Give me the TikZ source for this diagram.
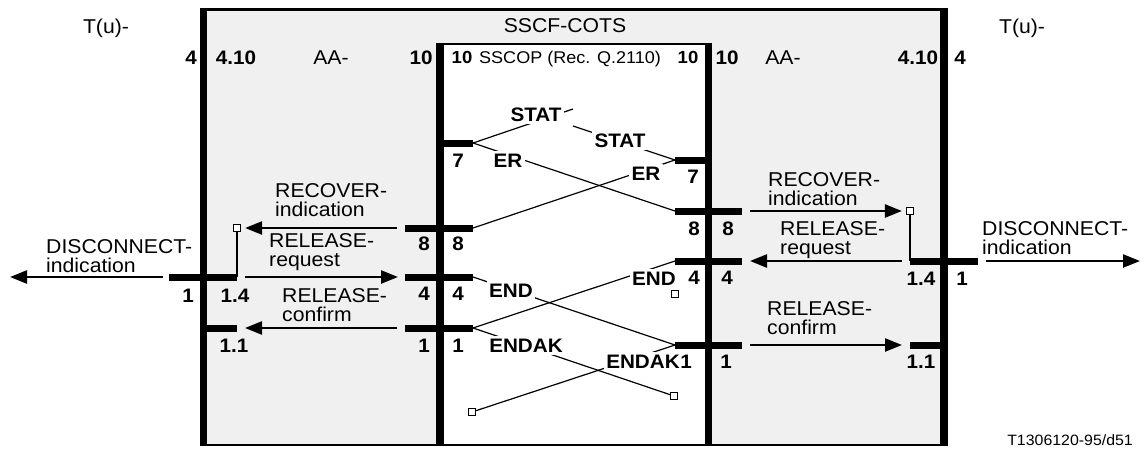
\documentclass[tikz,border=0pt]{standalone}
\usepackage{fontspec}
\setmainfont{Liberation Sans}[FakeStretch=1.06]
\usetikzlibrary{arrows.meta}
\definecolor{bg}{HTML}{F0F0F0}
\begin{document}
\begin{tikzpicture}[x=1pt,y=-1pt,
  bar/.style={line width=7.5pt},
  stub/.style={line width=7pt},
  sig/.style={line width=2.4pt,-{Triangle[length=17pt,width=13pt]}},
  pdu/.style={line width=1.2pt},
  lbl/.style={font=\fontsize{20}{19.5}\selectfont, align=left, inner sep=0pt, anchor=north west},
  txt/.style={font=\fontsize{20}{20}\selectfont, inner sep=0pt, anchor=base},
  small/.style={font=\fontsize{17}{17}\selectfont, inner sep=0pt, anchor=base},
  smallnum/.style={font=\bfseries\fontsize{17.5}{17}\selectfont, inner sep=0pt, anchor=base},
  num/.style={font=\bfseries\fontsize{19.5}{20}\selectfont, inner sep=0pt, anchor=base},
  pdulbl/.style={font=\bfseries\fontsize{19.5}{20}\selectfont, fill=white, inner sep=2.5pt, anchor=base},
  sq/.style={draw, fill=white, line width=1.2pt, minimum size=7pt, inner sep=0pt, rectangle}]
\useasboundingbox (0,0) rectangle (1145,455);
% frames
\fill[bg] (203,9) rectangle (944,445);
\fill[white] (440,43) rectangle (709,445);
\draw[line width=2.5pt] (200,9.5) -- (948,9.5);
\draw[line width=2pt] (200,444.5) -- (948,444.5);
\draw[line width=2.5pt] (436,44) -- (712,44);
\draw[bar] (203.5,8.5) -- (203.5,445.5);
\draw[bar] (944,8.5) -- (944,445.5);
\draw[bar] (440,43) -- (440,445.5);
\draw[bar] (708.5,43) -- (708.5,445.5);
% titles
\node[txt] (tul) at (106,33) {T(u)-};
\node[txt] (tur) at (1022,33) {T(u)-};
\node[txt] (sscf) at (565,32) {SSCF-COTS};
\node[num] (n4l) at (191,64) {4};
\node[num] (n410l) at (236,64) {4.10};
\node[txt] (aal) at (331,64) {AA-};
\node[num] (n10a) at (421,64) {10};
\node[smallnum] (n10b) at (462,63) {10};
\node[small] (sscop) at (570,63) {SSCOP (Rec. Q.2110)};
\node[smallnum] (n10c) at (688,63) {10};
\node[num] (n10d) at (727,64) {10};
\node[txt] (aar) at (783,64) {AA-};
\node[num] (n410r) at (918,64) {4.10};
\node[num] (n4r) at (960,64) {4};
% stub coordinates
\coordinate (oL1w) at (169,277);
\coordinate (oL14) at (237,277);
\coordinate (oL11b) at (203.5,328);
\coordinate (oL11e) at (237,328);
\coordinate (iL7) at (440,143);
\coordinate (l7) at (473,143);
\coordinate (iL8w) at (405,228);
\coordinate (l8) at (473,228);
\coordinate (iL4w) at (405,277);
\coordinate (l4) at (473,277);
\coordinate (iL1w) at (405,328);
\coordinate (l1) at (473,328);
\coordinate (r7) at (675,160);
\coordinate (iR7) at (708.5,160);
\coordinate (r8) at (675,211);
\coordinate (iR8e) at (742,211);
\coordinate (r4) at (675,261);
\coordinate (iR4e) at (742,261);
\coordinate (r1) at (675,345);
\coordinate (iR1e) at (742,345);
\coordinate (oR14) at (910,261);
\coordinate (oR1e) at (978,261);
\coordinate (oR11w) at (910,345);
\coordinate (oR11b) at (944,345);
\coordinate (dl) at (10,277);
\coordinate (dr) at (1140,261);
\coordinate (st1) at (573,109);
\coordinate (st2) at (573,126);
% stubs
\draw[stub] (oL1w) -- (oL14);
\draw[stub] (oL11b) -- (oL11e);
\draw[stub] (iL7) -- (l7);
\draw[stub] (iL8w) -- (l8);
\draw[stub] (iL4w) -- (l4);
\draw[stub] (iL1w) -- (l1);
\draw[stub] (r7) -- (iR7);
\draw[stub] (r8) -- (iR8e);
\draw[stub] (r4) -- (iR4e);
\draw[stub] (r1) -- (iR1e);
\draw[stub] (oR14) -- (oR1e);
\draw[stub] (oR11w) -- (oR11b);
% squares
\node[sq] (sqL) at (237,228) {};
\node[sq] (sqR) at (910,211) {};
\node[sq] (sqE) at (675,294) {};
\node[sq] (sqA) at (674,396) {};
\node[sq] (sqB) at (472,412) {};
% PDU lines
\draw[pdu] (l7) -- (st1);
\draw[pdu] (st2) -- (r7);
\draw[pdu] (l7) -- (r8);
\draw[pdu] (l8) -- (r7);
\draw[pdu] (l4) -- (r1);
\draw[pdu] (r4) -- (l1);
\draw[pdu] (l1) -- (sqA);
\draw[pdu] (r1) -- (sqB);
% PDU labels
\node[pdulbl] (stat1) at (536,121) {STAT};
\node[pdulbl] (stat2) at (620,147) {STAT};
\node[pdulbl] (er1) at (508,167) {ER};
\node[pdulbl] (er2) at (646,180) {ER};
\node[pdulbl] (end1) at (511,297) {END};
\node[pdulbl] (end2) at (654,285) {END};
\node[pdulbl] (endak1) at (526,352) {ENDAK};
\node[pdulbl] (endak2) at (643,368) {ENDAK};
% vertical joins
\draw[line width=2pt] (sqL.south) -- (oL14);
\draw[line width=2pt] (sqR.south) -- (oR14);
% signals
\draw[sig, shorten <=8pt, shorten >=4pt] (iL8w) -- (sqL);
\draw[sig, shorten <=8pt, shorten >=7pt] (oL14) -- (iL4w);
\draw[sig, shorten <=6pt] (oL1w) -- (dl);
\draw[sig, shorten <=8pt, shorten >=8pt] (iL1w) -- (oL11e);
\draw[sig, shorten <=8pt, shorten >=4pt] (iR8e) -- (sqR);
\draw[sig, shorten <=8pt, shorten >=8pt] (oR14) -- (iR4e);
\draw[sig, shorten <=8pt] (oR1e) -- (dr);
\draw[sig, shorten <=8pt, shorten >=8pt] (iR1e) -- (oR11w);
% signal labels
\node[lbl] (recl) at (275,183) {RECOVER-\\indication};
\node[lbl] (relrl) at (269,233) {RELEASE-\\request};
\node[lbl] (relcl) at (282,288) {RELEASE-\\confirm};
\node[lbl] (discl) at (46,239) {DISCONNECT-\\indication};
\node[lbl] (recr) at (768,172) {RECOVER-\\indication};
\node[lbl] (relrr) at (780,221) {RELEASE-\\request};
\node[lbl] (discr) at (982,221) {DISCONNECT-\\indication};
\node[lbl] (relcr) at (767,301) {RELEASE-\\confirm};
% stub numbers
\node[num] (a1) at (188,302) {1};
\node[num] (a2) at (235,302) {1.4};
\node[num] (a3) at (234,352) {1.1};
\node[num] (b1) at (424,250) {8};
\node[num] (b2) at (458,250) {8};
\node[num] (b3) at (424,300) {4};
\node[num] (b4) at (458,300) {4};
\node[num] (b5) at (424,352) {1};
\node[num] (b6) at (458,352) {1};
\node[num] (b7) at (458,167) {7};
\node[num] (c1) at (693,183) {7};
\node[num] (c2) at (694,235) {8};
\node[num] (c3) at (728,235) {8};
\node[num] (c4) at (694,284) {4};
\node[num] (c5) at (727,284) {4};
\node[num] (c6) at (686,368) {1};
\node[num] (c7) at (726,368) {1};
\node[num] (d1) at (921,285) {1.4};
\node[num] (d2) at (962,285) {1};
\node[num] (d3) at (921,368) {1.1};
% footer
\node[font=\fontsize{15}{15}\selectfont, inner sep=0pt, anchor=base east] (ref) at (1133,445) {T1306120-95/d51};
\end{tikzpicture}
\end{document}
